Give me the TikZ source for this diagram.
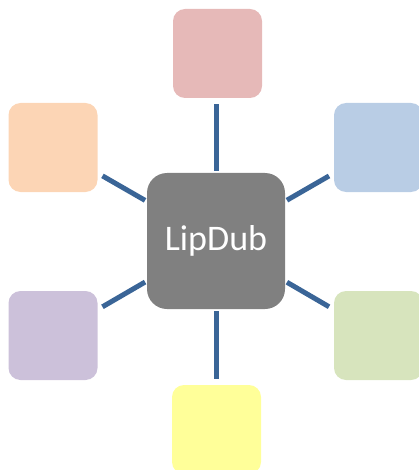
\documentclass[tikz,border=0pt]{standalone}
\usepackage{fontspec}
\setmainfont{Carlito}
\definecolor{spoke}{HTML}{3A6597}
\definecolor{hub}{HTML}{808080}
\definecolor{cPink}{HTML}{E6B9B8}
\definecolor{cPeach}{HTML}{FCD5B5}
\definecolor{cBlue}{HTML}{B9CDE5}
\definecolor{cLilac}{HTML}{CCC1DA}
\definecolor{cGreen}{HTML}{D7E4BD}
\definecolor{cYellow}{HTML}{FFFF99}
\tikzset{
  hubbox/.style={fill=hub, rounded corners=20pt, minimum width=138pt, minimum height=136pt, inner sep=0pt, text=white, font=\fontsize{36}{40}\selectfont},
  leaf/.style={rounded corners=12pt, minimum width=89pt, minimum height=89pt, inner sep=0pt},
  link/.style={draw=spoke, line width=5pt, shorten <=2pt, shorten >=5.5pt}
}
\begin{document}
\begin{tikzpicture}[x=1pt, y=-1pt]
  \useasboundingbox (0,0) rectangle (419,470);
  % central hub
  \node[hubbox] (c) at (216,241) {LipDub};
  % surrounding boxes
  \node[leaf, fill=cPink]   (t)  at (217.5,53.5) {};
  \node[leaf, fill=cPeach]  (tl) at (53,147.5) {};
  \node[leaf, fill=cBlue]   (tr) at (378.5,147.5) {};
  \node[leaf, fill=cLilac]  (bl) at (53,335.5) {};
  \node[leaf, fill=cGreen]  (br) at (378.5,335.5) {};
  \node[leaf, fill=cYellow] (b)  at (216.5,429.5) {};
  % spokes
  \draw[link] (c) -- (c |- t.south);
  \draw[link] (c) -- (c |- b.north);
  \draw[link] (c) -- (tl);
  \draw[link] (c) -- (tr);
  \draw[link] (c) -- (bl);
  \draw[link] (c) -- (br);
\end{tikzpicture}
\end{document}
